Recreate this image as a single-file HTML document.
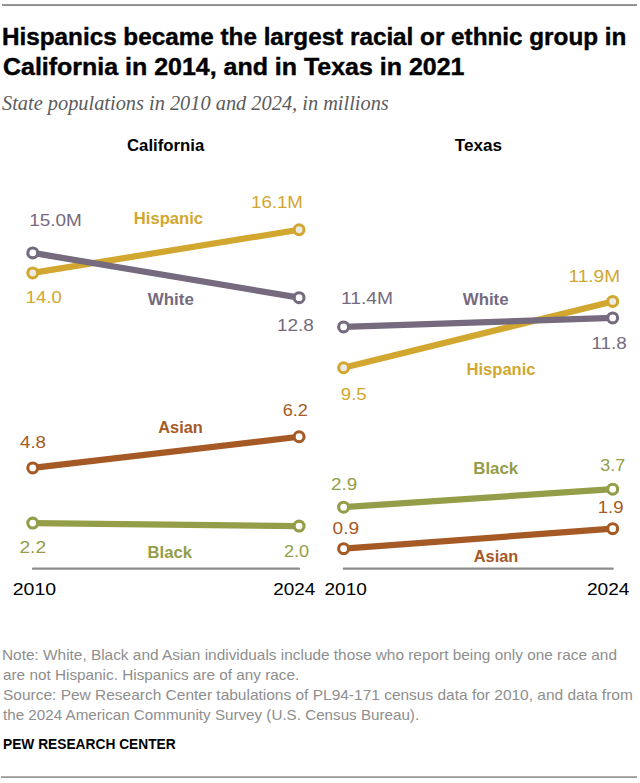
<!DOCTYPE html>
<html lang="en">
<head>
<meta charset="utf-8">
<title>Hispanics became the largest racial or ethnic group in California in 2014, and in Texas in 2021</title>
<style>
html,body{margin:0;padding:0;background:#fff;}
body{width:640px;height:783px;position:relative;overflow:hidden;font-family:"Liberation Sans",sans-serif;}
.rule{position:absolute;height:2px;}
h1{margin:0;padding:0;font-size:23px;font-weight:bold;}
.t{display:block;}
.t{position:absolute;white-space:nowrap;margin:0;padding:0;line-height:1;transform-origin:0 0;}
.ttl{font-family:"Liberation Sans",sans-serif;font-weight:bold;color:#000;-webkit-text-stroke:0.4px #000;}
.sub{font-family:"Liberation Serif",serif;font-style:italic;color:#5b5b5b;}
.note{font-family:"Liberation Sans",sans-serif;color:#8e8e8e;}
.src{font-family:"Liberation Sans",sans-serif;font-weight:bold;color:#000;}
svg{position:absolute;left:0;top:0;}
svg text{font-family:"Liberation Sans",sans-serif;}
</style>
</head>
<body>
<div class="rule" style="left:2px;width:635px;top:4px;background:linear-gradient(#999 50%,#8d8d8d 50%)"></div>
<h1>
<span class="t ttl" id="h0" style="left:2.25px;top:26.00px;font-size:23px;transform:scaleX(1.0550)">Hispanics became the largest racial or ethnic group in</span>
<span class="t ttl" id="h1" style="left:3.00px;top:56.00px;font-size:23px;transform:scaleX(1.0851)">California in 2014, and in Texas in 2021</span>
</h1>
<p class="t sub" id="h2" style="left:2.00px;top:93.00px;font-size:20px;transform:scaleX(1.0178)">State populations in 2010 and 2024, in millions</p>
<div class="notes">
<p class="t note" id="h3" style="left:2.00px;top:648.00px;font-size:14.8px;transform:scaleX(1.0398)">Note: White, Black and Asian individuals include those who report being only one race and</p>
<p class="t note" id="h4" style="left:3.00px;top:668.00px;font-size:14.8px;transform:scaleX(1.0350)">are not Hispanic. Hispanics are of any race.</p>
<p class="t note" id="h5" style="left:3.00px;top:688.00px;font-size:14.8px;transform:scaleX(1.0460)">Source: Pew Research Center tabulations of PL94-171 census data for 2010, and data from</p>
<p class="t note" id="h6" style="left:3.00px;top:708.00px;font-size:14.8px;transform:scaleX(1.0264)">the 2024 American Community Survey (U.S. Census Bureau).</p>
</div>
<p class="t src" id="h7" style="left:3.25px;top:737.00px;font-size:14px;transform:scaleX(0.9825)">PEW RESEARCH CENTER</p>
<svg width="640" height="783" viewBox="0 0 640 783">
<line x1="33.1" y1="568.65" x2="298.9" y2="568.65" stroke="#8c8c8c" stroke-width="2.4" stroke-linecap="round"/>
<line x1="343.9" y1="568.65" x2="612.6" y2="568.65" stroke="#8c8c8c" stroke-width="2.4" stroke-linecap="round"/>
<line x1="32.75" y1="272.90" x2="299.1" y2="229.75" stroke="#D1A730" stroke-width="6.2"/>
<line x1="32.75" y1="252.90" x2="299.1" y2="297.65" stroke="#756A7E" stroke-width="6.2"/>
<line x1="32.75" y1="467.90" x2="299.1" y2="436.75" stroke="#A55A26" stroke-width="6.2"/>
<line x1="32.75" y1="523.05" x2="299.1" y2="526.05" stroke="#949D48" stroke-width="6.2"/>
<line x1="343.6" y1="367.75" x2="612.7" y2="301.45" stroke="#D1A730" stroke-width="6.2"/>
<line x1="343.6" y1="326.95" x2="612.7" y2="317.95" stroke="#756A7E" stroke-width="6.2"/>
<line x1="343.6" y1="507.15" x2="612.7" y2="489.15" stroke="#949D48" stroke-width="6.2"/>
<line x1="343.6" y1="548.65" x2="612.7" y2="528.65" stroke="#A55A26" stroke-width="6.2"/>
<circle cx="32.75" cy="272.90" r="4.95" fill="#ECEAE4" stroke="#D1A730" stroke-width="3.1"/>
<circle cx="299.1" cy="229.75" r="4.95" fill="#ECEAE4" stroke="#D1A730" stroke-width="3.1"/>
<circle cx="32.75" cy="252.90" r="4.95" fill="#fff" stroke="#756A7E" stroke-width="3.1"/>
<circle cx="299.1" cy="297.65" r="4.95" fill="#fff" stroke="#756A7E" stroke-width="3.1"/>
<circle cx="32.75" cy="467.90" r="4.95" fill="#fff" stroke="#A55A26" stroke-width="3.1"/>
<circle cx="299.1" cy="436.75" r="4.95" fill="#fff" stroke="#A55A26" stroke-width="3.1"/>
<circle cx="32.75" cy="523.05" r="4.95" fill="#fff" stroke="#949D48" stroke-width="3.1"/>
<circle cx="299.1" cy="526.05" r="4.95" fill="#fff" stroke="#949D48" stroke-width="3.1"/>
<circle cx="343.6" cy="367.75" r="4.95" fill="#ECEAE4" stroke="#D1A730" stroke-width="3.1"/>
<circle cx="612.7" cy="301.45" r="4.95" fill="#ECEAE4" stroke="#D1A730" stroke-width="3.1"/>
<circle cx="343.6" cy="326.95" r="4.95" fill="#fff" stroke="#756A7E" stroke-width="3.1"/>
<circle cx="612.7" cy="317.95" r="4.95" fill="#fff" stroke="#756A7E" stroke-width="3.1"/>
<circle cx="343.6" cy="507.15" r="4.95" fill="#fff" stroke="#949D48" stroke-width="3.1"/>
<circle cx="612.7" cy="489.15" r="4.95" fill="#fff" stroke="#949D48" stroke-width="3.1"/>
<circle cx="343.6" cy="548.65" r="4.95" fill="#fff" stroke="#A55A26" stroke-width="3.1"/>
<circle cx="612.7" cy="528.65" r="4.95" fill="#fff" stroke="#A55A26" stroke-width="3.1"/>
<text id="s0" transform="translate(127.00 150.6) scale(1.0274 1)" font-size="16.3" font-weight="bold" fill="#000">California</text>
<text id="s1" transform="translate(454.75 150.6) scale(1.0511 1)" font-size="16.3" font-weight="bold" fill="#000">Texas</text>
<text id="s2" transform="translate(133.75 224) scale(1.0211 1)" font-size="16.3" font-weight="bold" fill="#D1A730">Hispanic</text>
<text id="s3" transform="translate(147.75 305) scale(1.0389 1)" font-size="16.3" font-weight="bold" fill="#756A7E">White</text>
<text id="s4" transform="translate(158.25 433.2) scale(1.0059 1)" font-size="16.3" font-weight="bold" fill="#A55A26">Asian</text>
<text id="s5" transform="translate(147.50 558) scale(1.0235 1)" font-size="16.3" font-weight="bold" fill="#949D48">Black</text>
<text id="s6" transform="translate(462.75 305) scale(1.0332 1)" font-size="16.3" font-weight="bold" fill="#756A7E">White</text>
<text id="s7" transform="translate(466.50 375) scale(1.0166 1)" font-size="16.3" font-weight="bold" fill="#D1A730">Hispanic</text>
<text id="s8" transform="translate(473.25 474) scale(1.0343 1)" font-size="16.3" font-weight="bold" fill="#949D48">Black</text>
<text id="s9" transform="translate(473.75 561.9) scale(1.0059 1)" font-size="16.3" font-weight="bold" fill="#A55A26">Asian</text>
<text id="s10" transform="translate(29.25 225.8) scale(1.0890 1)" font-size="17.4" font-weight="normal" fill="#756A7E">15.0M</text>
<text id="s11" transform="translate(25.75 303.2) scale(1.0614 1)" font-size="17.4" font-weight="normal" fill="#D1A730">14.0</text>
<text id="s12" transform="translate(251.00 208.2) scale(1.0743 1)" font-size="17.4" font-weight="normal" fill="#D1A730">16.1M</text>
<text id="s13" transform="translate(277.00 331) scale(1.0907 1)" font-size="17.4" font-weight="normal" fill="#756A7E">12.8</text>
<text id="s14" transform="translate(20.00 447.8) scale(1.0740 1)" font-size="17.4" font-weight="normal" fill="#A55A26">4.8</text>
<text id="s15" transform="translate(282.75 416) scale(1.0423 1)" font-size="17.4" font-weight="normal" fill="#A55A26">6.2</text>
<text id="s16" transform="translate(19.50 553.2) scale(1.0978 1)" font-size="17.4" font-weight="normal" fill="#949D48">2.2</text>
<text id="s17" transform="translate(284.00 557) scale(1.0418 1)" font-size="17.4" font-weight="normal" fill="#949D48">2.0</text>
<text id="s18" transform="translate(12.75 594.7) scale(1.1217 1)" font-size="17.4" font-weight="normal" fill="#000">2010</text>
<text id="s19" transform="translate(273.25 594.7) scale(1.0853 1)" font-size="17.4" font-weight="normal" fill="#000">2024</text>
<text id="s20" transform="translate(341.00 304.25) scale(1.1062 1)" font-size="17.4" font-weight="normal" fill="#756A7E">11.4M</text>
<text id="s21" transform="translate(340.75 399.8) scale(1.0756 1)" font-size="17.4" font-weight="normal" fill="#D1A730">9.5</text>
<text id="s22" transform="translate(568.50 282) scale(1.0950 1)" font-size="17.4" font-weight="normal" fill="#D1A730">11.9M</text>
<text id="s23" transform="translate(591.50 349) scale(1.0804 1)" font-size="17.4" font-weight="normal" fill="#756A7E">11.8</text>
<text id="s24" transform="translate(331.00 490.2) scale(1.0823 1)" font-size="17.4" font-weight="normal" fill="#949D48">2.9</text>
<text id="s25" transform="translate(332.50 534.3) scale(1.0989 1)" font-size="17.4" font-weight="normal" fill="#A55A26">0.9</text>
<text id="s26" transform="translate(600.25 471.2) scale(1.0309 1)" font-size="17.4" font-weight="normal" fill="#949D48">3.7</text>
<text id="s27" transform="translate(597.75 512.8) scale(1.0660 1)" font-size="17.4" font-weight="normal" fill="#A55A26">1.9</text>
<text id="s28" transform="translate(324.50 594.7) scale(1.0927 1)" font-size="17.4" font-weight="normal" fill="#000">2010</text>
<text id="s29" transform="translate(587.00 594.7) scale(1.0987 1)" font-size="17.4" font-weight="normal" fill="#000">2024</text>
</svg>
<div class="rule" style="left:1px;width:636px;top:776px;background:linear-gradient(#afafaf 50%,#999 50%)"></div>
</body>
</html>
